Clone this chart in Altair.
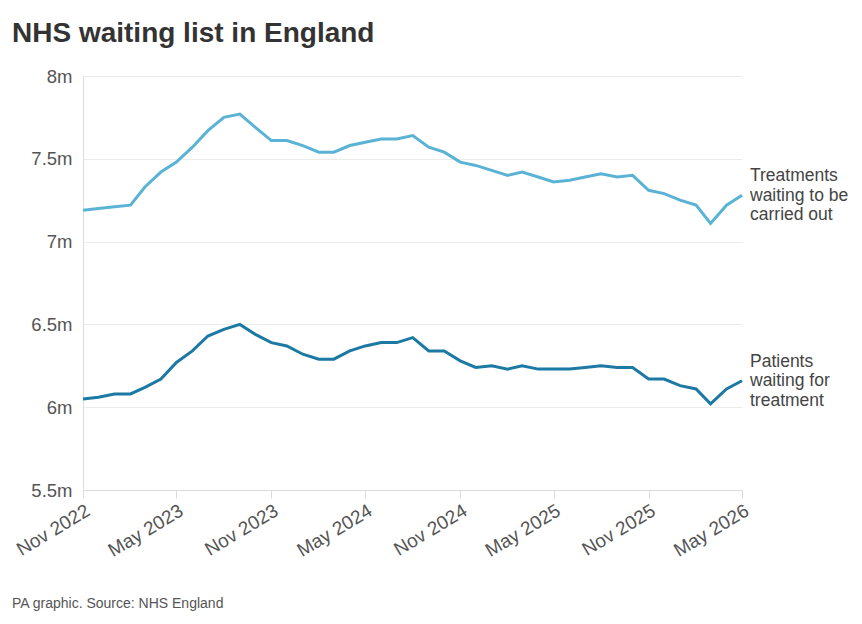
import altair as alt
import pandas as pd

# Monthly categories, Nov 2022 .. May 2026
months = pd.date_range("2022-11-01", periods=43, freq="MS").strftime("%Y-%m-%dT00:00:00").tolist()

treatments = [7.19, 7.20, 7.21, 7.22, 7.33, 7.42, 7.48, 7.57, 7.67, 7.75, 7.77, 7.69,
              7.61, 7.61, 7.58, 7.54, 7.54, 7.58, 7.60, 7.62, 7.62, 7.64, 7.57, 7.54,
              7.48, 7.46, 7.43, 7.40, 7.42, 7.39, 7.36, 7.37, 7.39, 7.41, 7.39, 7.40,
              7.31, 7.29, 7.25, 7.22, 7.11, 7.22, 7.28]

patients = [6.05, 6.06, 6.08, 6.08, 6.12, 6.17, 6.27, 6.34, 6.43, 6.47, 6.50, 6.44,
            6.39, 6.37, 6.32, 6.29, 6.29, 6.34, 6.37, 6.39, 6.39, 6.42, 6.34, 6.34,
            6.28, 6.24, 6.25, 6.23, 6.25, 6.23, 6.23, 6.23, 6.24, 6.25, 6.24, 6.24,
            6.17, 6.17, 6.13, 6.11, 6.02, 6.11, 6.16]

series_names = ["Treatments waiting to be carried out", "Patients waiting for treatment"]
series_labels = ["Treatments\nwaiting to be\ncarried out", "Patients\nwaiting for\ntreatment"]
series_colors = ["#5ab3d5", "#1b79a4"]

tick_months = [(2022, 11), (2023, 5), (2023, 11), (2024, 5), (2024, 11),
               (2025, 5), (2025, 11), (2026, 5)]
y_ticks = [5.5, 6, 6.5, 7, 7.5, 8]

title_text = "NHS waiting list in England"
footer_text = "PA graphic. Source: NHS England"

FONT = "Liberation Sans"

df = pd.DataFrame({
    "month": months * 2,
    "value": treatments + patients,
    "series": [series_names[0]] * len(months) + [series_names[1]] * len(months),
})

labels_df = pd.DataFrame({
    "month": [months[-1], months[-1]],
    "value": [treatments[-1], patients[-1]],
    "series": series_names,
    "label": series_labels,
})

x_scale = alt.Scale(domain=[alt.DateTime(year=2022, month=11, date=1),
                            alt.DateTime(year=2026, month=5, date=1)])
y_scale = alt.Scale(domain=[5.5, 8], nice=False, zero=False)

x_axis = alt.Axis(
    values=[alt.DateTime(year=y, month=m, date=1) for y, m in tick_months],
    format="%b %Y", grid=False, domainColor="#dcdcdc", tickColor="#dcdcdc",
    tickSize=8, labelAngle=-31, labelAlign="right", labelBaseline="top",
    labelFontSize=19, labelColor="#555555", labelFont=FONT, labelPadding=3,
    title=None,
)
y_axis = alt.Axis(
    values=y_ticks, labelExpr="datum.value + 'm'", grid=True, gridColor="#ececec",
    domainColor="#dcdcdc", ticks=False, labelPadding=11, labelFontSize=18.5,
    labelColor="#555555", labelFont=FONT, title=None,
)

color = alt.Color("series:N", scale=alt.Scale(domain=series_names, range=series_colors), legend=None)

lines = alt.Chart(df).mark_line(strokeWidth=3, clip=False).encode(
    x=alt.X("month:T", scale=x_scale, axis=x_axis),
    y=alt.Y("value:Q", scale=y_scale, axis=y_axis),
    color=color,
)

end_labels = alt.Chart(labels_df).mark_text(
    align="left", baseline="middle", dx=8, dy=-19, fontSize=17.5, font=FONT,
    color="#444444", lineBreak="\n", lineHeight=19.5,
).encode(
    x=alt.X("month:T", scale=x_scale),
    y=alt.Y("value:Q", scale=y_scale),
    text="label:N",
)

title = alt.Chart(pd.DataFrame({"t": [title_text]})).mark_text(
    align="left", baseline="alphabetic", fontSize=28, fontWeight="bold",
    font=FONT, color="#333333",
).encode(x=alt.value(-71), y=alt.value(-34), text="t:N")

footer = alt.Chart(pd.DataFrame({"t": [footer_text]})).mark_text(
    align="left", baseline="alphabetic", fontSize=14, font=FONT, color="#555555",
).encode(x=alt.value(-71), y=alt.value(532), text="t:N")

chart = alt.layer(lines, end_labels, title, footer).properties(
    width=659, height=414,
    autosize=alt.AutoSizeParams(type="none"),
    padding={"left": 83, "top": 76, "right": 120, "bottom": 134},
    background="white",
).configure_view(stroke=None)

chart.save("out.html", embed_options={"renderer": "svg", "actions": False})
